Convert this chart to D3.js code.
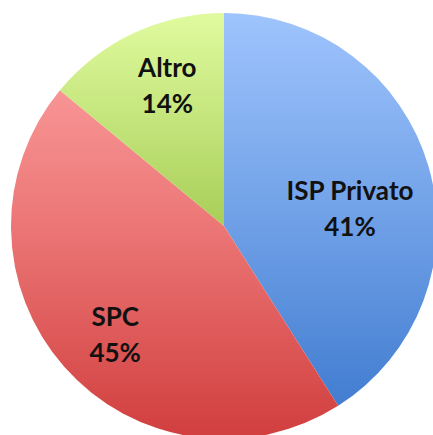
<!DOCTYPE html>
<html>
<head>
<meta charset="utf-8">
<script src="https://cdn.jsdelivr.net/npm/d3@7"></script>
<style>
  body { margin: 0; background: #fff; }
</style>
</head>
<body>
<script>
const categories = ['ISP Privato', 'SPC', 'Altro'];
const values = [41, 45, 14];
const percentLabels = ['41%', '45%', '14%'];

// gradient colours per slice (top, middle, bottom)
const topColors = ['#9fc4fd', '#ffa6a6', '#e0fb9f'];
const midColors = ['#6e9fe6', '#ec7676', '#a8ce58'];
const bottomColors = ['#3a77cd', '#d13e3e', '#7fa82e'];

const w = 433;
const h = 435;
const cx = 224;
const cy = 226;
const r = 213;

// label placement: radius from centre and angle offset (deg) from slice middle
const labelLayout = {
	'ISP Privato': { r: 127, da: 9 },
	'SPC': { r: 155, da: -4 },
	'Altro': { r: 150, da: 3 },
};

const svg = d3
	.select('body')
	.append('svg')
	.attr('width', w)
	.attr('height', h);

const defs = svg.append('defs');
categories.forEach((c, i) => {
	// userSpaceOnUse -> coords of the translated group
	const g = defs
		.append('linearGradient')
		.attr('id', 'grad' + i)
		.attr('gradientUnits', 'userSpaceOnUse')
		.attr('x1', 0)
		.attr('y1', -r)
		.attr('x2', 0)
		.attr('y2', r);
	g.append('stop').attr('offset', 0).attr('stop-color', topColors[i]);
	g.append('stop').attr('offset', 0.5).attr('stop-color', midColors[i]);
	g.append('stop').attr('offset', 1).attr('stop-color', bottomColors[i]);
});

const pie = d3
	.pie()
	.sort(null)
	.value(d => d);

const arc = d3.arc().innerRadius(0).outerRadius(r);

const arcs = pie(values);

const g = svg.append('g').attr('transform', `translate(${cx},${cy})`);

g.selectAll('path')
	.data(arcs)
	.enter()
	.append('path')
	.attr('d', arc)
	.attr('fill', (d, i) => `url(#grad${i})`);

const labels = g
	.selectAll('text')
	.data(arcs)
	.enter()
	.append('text')
	.attr('transform', (d, i) => {
		const lay = labelLayout[categories[i]];
		const a = (d.startAngle + d.endAngle) / 2 + (lay.da * Math.PI) / 180;
		return `translate(${Math.sin(a) * lay.r},${-Math.cos(a) * lay.r})`;
	})
	.attr('text-anchor', 'middle')
	.style('font-family', 'Lato, "Open Sans", sans-serif')
	.style('font-weight', 'bold')
	.style('font-size', '26px')
	.attr('fill', '#111');

labels
	.append('tspan')
	.attr('x', 0)
	.attr('dy', '-0.4em')
	.text((d, i) => categories[i]);

labels
	.append('tspan')
	.attr('x', 0)
	.attr('dy', '1.4em')
	.text((d, i) => percentLabels[i]);
</script>
</body>
</html>
